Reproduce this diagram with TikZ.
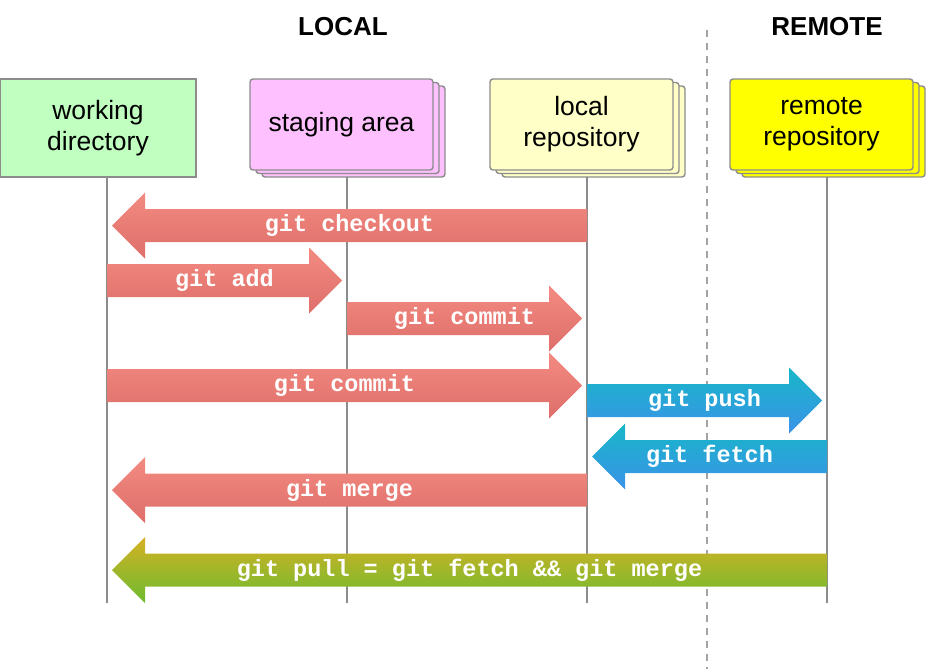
\documentclass[tikz,border=0pt]{standalone}
\usepackage{fontspec}
\setmainfont{Liberation Sans}
\newfontfamily\gitmono{Liberation Mono}
\usepackage{xcolor}
\usepackage{tikz}
\usetikzlibrary{calc,shadows}

\definecolor{boxgray}{RGB}{140,140,140}
\definecolor{wdgreen}{RGB}{192,255,192}
\definecolor{sapink}{RGB}{255,192,255}
\definecolor{lrcream}{RGB}{255,255,200}
\definecolor{rryellow}{RGB}{255,255,0}
\definecolor{redtop}{RGB}{243,139,129}
\definecolor{redbot}{RGB}{222,110,106}
\definecolor{bluetop}{RGB}{22,183,200}
\definecolor{bluebot}{RGB}{60,146,232}
\definecolor{pulltop}{RGB}{214,177,35}
\definecolor{pullbot}{RGB}{108,187,48}

% fat arrow from one lifeline to another: style, from, to, row, label
\newcommand{\gitarrow}[5]{%
\path[#1] let \p1=(#2), \p2=(#3), \p3=(0,#4),
  \n1={sign(\x2-\x1)}, \n2={\x2-5*\n1}, \n3={\n2-33*\n1} in
  ({\x1},{\y3+16.5pt}) -- ({\n3*1pt},{\y3+16.5pt}) -- ({\n3*1pt},{\y3+33pt})
  -- ({\n2*1pt},{\y3}) -- ({\n3*1pt},{\y3-33pt}) -- ({\n3*1pt},{\y3-16.5pt})
  -- ({\x1},{\y3-16.5pt}) -- cycle
  ({(\x1+\n2*1pt)/2},{\y3}) node[gitlabel] {#5};}

\begin{document}
\begin{tikzpicture}[x=1pt,y=-1pt,
box/.style={draw=boxgray,line width=1.4pt,align=center,
  font=\fontsize{26.5}{31}\selectfont},
repo/.style={box,fill=#1,rounded corners=3pt,minimum width=183pt,minimum height=91pt,
  general shadow={shadow xshift=12pt,shadow yshift=-7pt,fill=#1,draw=boxgray,line width=1.4pt},
  general shadow={shadow xshift=6pt,shadow yshift=-3.5pt,fill=#1,draw=boxgray,line width=1.4pt}},
title/.style={font=\bfseries\fontsize{26}{30}\selectfont},
lifeline/.style={draw=boxgray,line width=1.4pt},
gitlabel/.style={text=white,font=\gitmono\bfseries\fontsize{23.5}{28}\selectfont},
redarrow/.style={top color=redtop,bottom color=redbot},
bluearrow/.style={top color=bluetop,bottom color=bluebot},
pullarrow/.style={top color=pulltop,bottom color=pullbot}
]
\useasboundingbox (0,0) rectangle (926,669);

\node[title] (local) at (343,27) {LOCAL};
\node[title] (remote) at (827,27) {REMOTE};
\draw[boxgray!80,line width=1.4pt,dash pattern=on 7pt off 6pt] (707,30) -- (707,669);

\node[box,fill=wdgreen,minimum width=196pt,minimum height=98pt] (wd) at (98,128) {working\\directory};
\node[repo=sapink] (sa) at (341.5,124.5) {staging area};
\node[repo=lrcream] (lr) at (581.5,124.5) {local\\repository};
\node[repo=rryellow] (rr) at (821.5,124.5) {remote\\repository};

\coordinate (wd-l) at (107,177);
\coordinate (sa-l) at (347,177);
\coordinate (lr-l) at (587,177);
\coordinate (rr-l) at (827,177);
\foreach \n in {wd,sa,lr,rr}
  \draw[lifeline] (\n-l) -- (\n-l |- 0,603);

\gitarrow{redarrow}{lr-l}{wd-l}{225.5}{git checkout}
\gitarrow{redarrow}{wd-l}{sa-l}{280.5}{git add}
\gitarrow{redarrow}{sa-l}{lr-l}{318.5}{git commit}
\gitarrow{redarrow}{wd-l}{lr-l}{385.5}{git commit}
\gitarrow{bluearrow}{lr-l}{rr-l}{400.5}{git push}
\gitarrow{bluearrow}{rr-l}{lr-l}{456.5}{git fetch}
\gitarrow{redarrow}{lr-l}{wd-l}{490}{git merge}
\gitarrow{pullarrow}{rr-l}{wd-l}{570}{git pull = git fetch \&\& git merge}
\end{tikzpicture}
\end{document}
